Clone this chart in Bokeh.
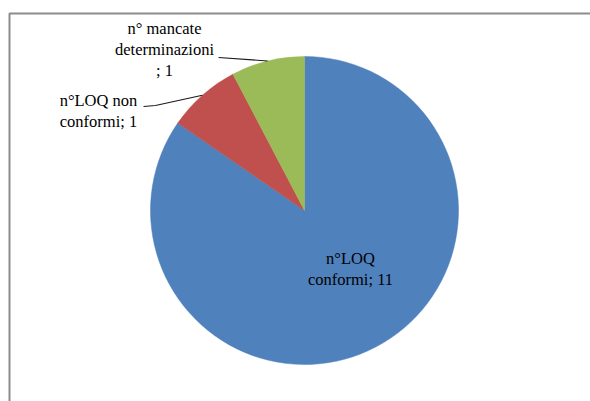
import math

from bokeh.plotting import figure
from bokeh.models import Range1d, ColumnDataSource
from bokeh.core.properties import value
from bokeh.embed import file_html
from bokeh.resources import INLINE

# Pie data
categories = ["n°LOQ conformi", "n°LOQ non conformi", "n° mancate determinazioni"]
values = [11, 1, 1]
colors = ["#4F81BD", "#C0504D", "#9BBB59"]

# Label wording with its line breaks
display_names = ["n°LOQ\nconformi", "n°LOQ non\nconformi", "n° mancate\ndeterminazioni\n"]

W, H = 590, 401
CX, CY, R = 304, H - 210, 154
LINE_GAP = 21

p = figure(width=W, height=H, output_backend="svg", toolbar_location=None,
           x_range=Range1d(0, W), y_range=Range1d(0, H),
           x_axis_type=None, y_axis_type=None, min_border=0)
p.grid.visible = False
p.outline_line_color = None
p.background_fill_color = "white"
p.border_fill_color = "white"

# Chart area frame (left and top edges, running off the page)
p.line([9, 9, W + 5], [-5, H - 13, H - 13], line_color="#8c8c8c", line_width=2)

# Slices, clockwise from 12 o'clock
total = float(sum(values))
starts, ends, mids = [], [], []
cum = 0.0
for v in values:
    a0 = math.pi / 2 - 2 * math.pi * cum / total
    cum += v
    a1 = math.pi / 2 - 2 * math.pi * cum / total
    starts.append(a0)
    ends.append(a1)
    mids.append((a0 + a1) / 2)

src = ColumnDataSource(dict(start=starts, end=ends, color=colors, cat=categories, val=values))
p.wedge(x=CX, y=CY, radius=R, start_angle="start", end_angle="end", direction="clock",
        fill_color="color", line_color="color", line_width=0.5, source=src)

labels = [f"{n}; {v}" for n, v in zip(display_names, values)]

# Label anchors (centre of each text block)
label_xy = [(350, H - 268), (98, H - 110), (164, H - 49)]

# Leader lines for the labels placed outside the pie
leader_start = {1: [(143, H - 106), (155, H - 105)], 2: [(218, H - 57)]}
for i, pts in leader_start.items():
    ex = CX + R * math.cos(mids[i])
    ey = CY + R * math.sin(mids[i])
    xs = [q[0] for q in pts] + [ex]
    ys = [q[1] for q in pts] + [ey]
    p.line(xs, ys, line_color="#1a1a1a", line_width=1.2)

# One text row per label line, stacked around the anchor
tx, ty, tt = [], [], []
for (ax, ay), lab in zip(label_xy, labels):
    rows = lab.split("\n")
    n = len(rows)
    for k, row in enumerate(rows):
        tx.append(ax)
        ty.append(ay + (n - 1) / 2 * LINE_GAP - k * LINE_GAP)
        tt.append(row)

p.text(x=tx, y=ty, text=tt,
       text_font=value("Liberation Serif"), text_font_size="16.5px",
       text_color="black", text_align="center", text_baseline="middle")

open("out.html", "w").write(file_html(p, INLINE))
